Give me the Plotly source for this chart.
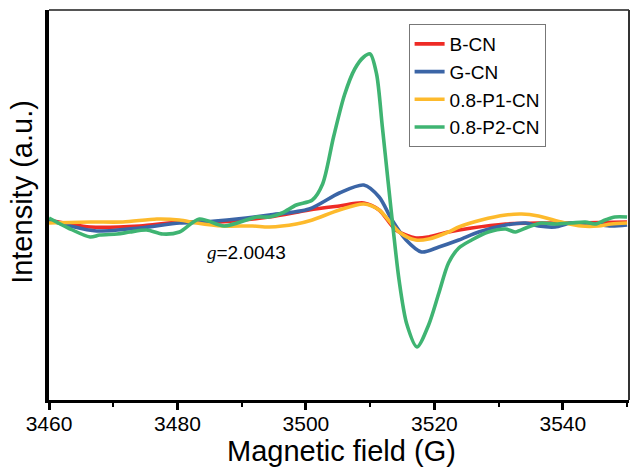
import plotly.graph_objects as go

# ---- data ----
field_b = [3460, 3466.4, 3474.1, 3480.3, 3486.5, 3494.3, 3500.5, 3505.2, 3509.0, 3511.4, 3514.0, 3517.1, 3519.1, 3522.2, 3525.8, 3531.1, 3536.2, 3541.3, 3550]
int_b = [2, -5, -4, 0, 0, 5, 12, 16, 19, 12, -8, -16, -15, -10, -6, -2, -1, -1, 0]

field_g = [3460, 3463.3, 3467.4, 3474.1, 3480.3, 3483.9, 3489.2, 3494.3, 3500.5, 3505.2, 3509.0, 3511.4, 3513.4, 3515.6, 3518.0, 3520.7, 3523.8, 3526.9, 3531.1, 3534.2, 3536.2, 3538.8, 3541.3, 3545.0, 3547.5, 3550]
int_g = [2, -4, -9, -6, -1, 0, 3, 7, 13, 29, 37, 25, 2, -18, -30, -25, -18, -10, -3, -1, -4, -5, -1, -2, -4, -3]

field_p1 = [3460, 3466.4, 3471.5, 3476.8, 3480.3, 3483.0, 3487.0, 3491.7, 3494.3, 3498.5, 3501.0, 3505.2, 3509.0, 3511.4, 3514.5, 3517.1, 3519.1, 3522.2, 3523.8, 3527.3, 3531.1, 3533.6, 3536.2, 3539.8, 3542.9, 3545.5, 3547.5, 3550]
int_p1 = [-1, 0, 0, 3, 2, -1, -4, -4, -5, -2, 2, 12, 18, 12, -10, -18, -17, -10, -5, 2, 7, 8, 6, 0, -4, -4, -2, -1]

field_p2 = [3460, 3463.0, 3466.4, 3467.9, 3470.6, 3472.6, 3475.2, 3477.7, 3480.3, 3483.4, 3487.3, 3492.3, 3494.3, 3496.3, 3498.5, 3501.0, 3502.6, 3504.3, 3506.0, 3507.6, 3509.0, 3510.0, 3511.0, 3511.9, 3512.8, 3513.6, 3514.5, 3515.7, 3517.3, 3519.1, 3520.7, 3522.2, 3523.8, 3525.8, 3528.4, 3531.1, 3532.6, 3534.6, 3536.7, 3538.8, 3541.3, 3543.5, 3545.0, 3546.6, 3548.1, 3550]
int_p2 = [4, -6, -15, -13, -12, -10, -8, -12, -10, 3, -4, 5, 5, 9, 17, 22, 38, 85, 127, 153, 165, 168, 148, 95, 40, -8, -58, -102, -125, -103, -71, -41, -26, -18, -10, -7, -10, -5, -1, -2, -1, 0, -2, 2, 5, 5]

names = ["B-CN", "G-CN", "0.8-P1-CN", "0.8-P2-CN"]
colors = ["#EE2B25", "#3B65A6", "#FDBA2C", "#3FB472"]
series = [(field_b, int_b), (field_g, int_g), (field_p1, int_p1), (field_p2, int_p2)]

x_range = [3460, 3550.3]
y_range = [-178, 212]
g_label_pos = (3484.3, -30)

FONT = "Arial, Liberation Sans, Helvetica, sans-serif"

fig = go.Figure()
for (xs, ys), name, col in zip(series, names, colors):
    fig.add_trace(go.Scatter(
        x=xs, y=ys, mode="lines", name=name,
        line=dict(color=col, width=3.6, shape="spline", smoothing=0.8),
    ))

fig.update_layout(
    width=630, height=468,
    margin=dict(l=49, r=1, t=10, b=68),
    paper_bgcolor="white", plot_bgcolor="white",
    font=dict(family=FONT, color="black"),
    showlegend=True,
    legend=dict(
        x=0.62, y=0.964, xanchor="left", yanchor="top",
        font=dict(size=19, family=FONT, color="black"),
        bordercolor="#777777", borderwidth=1, bgcolor="rgba(255,255,255,1)",
        tracegroupgap=0, itemwidth=30,
    ),
    xaxis=dict(
        range=x_range, showgrid=False, zeroline=False,
        showline=True, linecolor="black", linewidth=3,
        ticks="outside", ticklen=7, tickwidth=2.5, tickcolor="black",
        tick0=3460, dtick=20, ticklabelstandoff=-4,
        tickfont=dict(size=21, family=FONT, color="black"),
        minor=dict(ticks="outside", ticklen=4, tickwidth=2, tickcolor="black", dtick=10, tick0=3460, showgrid=False),
    ),
    yaxis=dict(
        range=y_range, showgrid=False, zeroline=False,
        showline=True, linecolor="black", linewidth=3.5,
        showticklabels=False, ticks="",
    ),
    shapes=[
        dict(type="line", xref="paper", yref="paper", x0=0, x1=1, y0=1, y1=1,
             line=dict(color="#555555", width=2)),
        dict(type="line", xref="paper", yref="paper", x0=1, x1=1, y0=0, y1=1,
             line=dict(color="#333333", width=2)),
    ],
    annotations=[
        dict(text="Magnetic field (G)", xref="paper", yref="paper",
             x=0.505, y=-0.13, xanchor="center", yanchor="middle",
             showarrow=False, font=dict(size=29, family=FONT, color="black")),
        dict(text="Intensity (a.u.)", xref="paper", yref="paper",
             x=-0.047, y=0.533, xanchor="center", yanchor="middle", textangle=-90,
             showarrow=False, font=dict(size=29, family=FONT, color="black")),
        dict(text="<i><span style='font-family:Times New Roman, Liberation Serif, serif'>g</span></i>=2.0043",
             x=g_label_pos[0], y=g_label_pos[1], xref="x", yref="y",
             xanchor="left", yanchor="middle", showarrow=False,
             font=dict(size=19, family=FONT, color="black")),
    ],
)

fig.write_html("out.html", config={"displayModeBar": False},
               post_script="document.body.style.margin='0px';document.body.style.overflow='hidden';")
